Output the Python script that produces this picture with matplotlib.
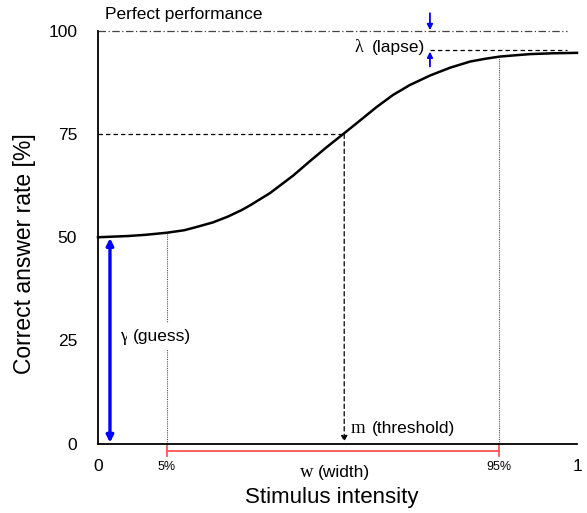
# Psychometric function with guess, lapse, threshold and width annotations

import matplotlib.pyplot as plt

plt.rcParams['font.family'] = ['Liberation Sans', 'DejaVu Sans']

# curve (stimulus intensity, correct answer rate %)
intensity = [0.0, 0.063, 0.10, 0.144, 0.18, 0.203, 0.24, 0.271, 0.30, 0.317,
             0.359, 0.408, 0.443, 0.477, 0.516, 0.547, 0.582, 0.616, 0.651, 0.693,
             0.735, 0.777, 0.81, 0.839, 0.87, 0.902, 0.95, 1.0]
rate = [50.0, 50.3, 50.6, 51.1, 51.7, 52.4, 53.6, 55.0, 56.6, 57.7,
        60.7, 65.0, 68.5, 71.8, 75.4, 78.3, 81.6, 84.5, 86.9, 89.2,
        91.1, 92.6, 93.3, 93.8, 94.1, 94.4, 94.6, 94.7]

y_ticks = [0, 25, 50, 75, 100]
guess = 50
lapse_level = 95.4
threshold_x = 0.514
threshold_y = 75
x5 = 0.144
y5 = 51.1
x95 = 0.837
y95 = 93.7

fig = plt.figure(figsize=(5.87, 5.13), dpi=100)
ax = fig.add_axes([98 / 587, 69.5 / 513, 479 / 587, 412.5 / 513])
ax.set_xlim(0, 1)
ax.set_ylim(0, 100)
ax.spines['top'].set_visible(False)
ax.spines['right'].set_visible(False)
ax.spines['left'].set_linewidth(1.3)
ax.spines['bottom'].set_linewidth(1.3)

ax.plot(intensity, rate, color="black", linewidth=1.8, clip_on=False, zorder=5)

# perfect performance
ax.plot([0, 0.98], [100, 100], color="#444444", linewidth=0.9,
        linestyle=(0, (6, 2, 1, 2)), clip_on=False)
ax.text(0.015, 103.9, "Perfect performance", fontsize=12.5, va="center", ha="left")

# lapse
ax.plot([0.693, 0.98], [lapse_level, lapse_level], color="black", linewidth=0.9,
        linestyle=(0, (3.5, 2.5)), clip_on=False)
ax.annotate("", xy=(0.693, 100.2), xytext=(0.693, 104.3),
            arrowprops=dict(arrowstyle="-|>", color="blue", lw=1.3,
                            mutation_scale=8, shrinkA=0, shrinkB=0),
            annotation_clip=False)
ax.annotate("", xy=(0.693, 95.0), xytext=(0.693, 91.4),
            arrowprops=dict(arrowstyle="-|>", color="blue", lw=1.3,
                            mutation_scale=8, shrinkA=0, shrinkB=0),
            annotation_clip=False)
ax.text(0.536, 95.9, "λ", fontsize=13, family="Liberation Serif", ha="left", va="center")
ax.text(0.572, 95.9, "(lapse)", fontsize=12.5, ha="left", va="center")

# threshold
ax.plot([0, threshold_x], [threshold_y, threshold_y], color="black", linewidth=0.9,
        linestyle=(0, (3.5, 2.5)))
ax.annotate("", xy=(threshold_x, 0.4), xytext=(threshold_x, threshold_y),
            arrowprops=dict(arrowstyle="-|>", color="black", lw=0.9, ls=(0, (3.5, 2.5)),
                            mutation_scale=9, shrinkA=0, shrinkB=0))
ax.text(0.527, 3.6, "m", fontsize=13.5, family="Liberation Serif",
        va="center", ha="left")
ax.text(0.572, 3.6, "(threshold)", fontsize=12.5, va="center", ha="left")

# guess
ax.annotate("", xy=(0.025, 0.2), xytext=(0.025, guess - 0.2),
            arrowprops=dict(arrowstyle="<|-|>", color="blue", lw=2.4,
                            mutation_scale=10, shrinkA=0, shrinkB=0))
ax.plot([x5, x5], [0, y5], color="#555555", linewidth=0.8, linestyle=(0, (1, 1)))
ax.plot([x95, x95], [0, y95], color="#555555", linewidth=0.8, linestyle=(0, (1, 1)))
ax.text(0.046, 26.0, "γ", fontsize=13, family="Liberation Serif", va="center",
        ha="left", bbox=dict(facecolor="white", edgecolor="none", pad=4))
ax.text(0.073, 26.0, "(guess)", fontsize=12.5, va="center", ha="left",
        bbox=dict(facecolor="white", edgecolor="none", pad=4))

# width
ax.plot([x5, x95], [-1.8, -1.8], color="#ff5555", linewidth=1.3, clip_on=False)
ax.plot([x5, x5], [0, -3.1], color="#ff5555", linewidth=1.3, clip_on=False)
ax.plot([x95, x95], [0, -3.1], color="#ff5555", linewidth=1.3, clip_on=False)
ax.text(x5, -5.7, "5%", fontsize=9, ha="center", va="center")
ax.text(x95, -5.7, "95%", fontsize=9, ha="center", va="center")
ax.text(0.422, -7.1, "w", fontsize=13.5, family="Liberation Serif", ha="left", va="center")
ax.text(0.459, -7.1, "(width)", fontsize=12.5, ha="left", va="center")

ax.set_xticks([0, 1])
ax.set_xticklabels(["0", "1"], fontsize=12.5)
ax.set_yticks(y_ticks)
ax.set_yticklabels([str(v) for v in y_ticks], fontsize=12.5)
ax.tick_params(axis="both", length=0)
ax.tick_params(axis="y", pad=15)
ax.tick_params(axis="x", pad=11)

fig.text(332 / 587, 1 - 498 / 513, "Stimulus intensity", fontsize=16,
         ha="center", va="center")
fig.text(25 / 587, 1 - 254 / 513, "Correct answer rate [%]", fontsize=16.5,
         rotation=90, ha="center", va="center")

fig.savefig("out.png", dpi=100)
